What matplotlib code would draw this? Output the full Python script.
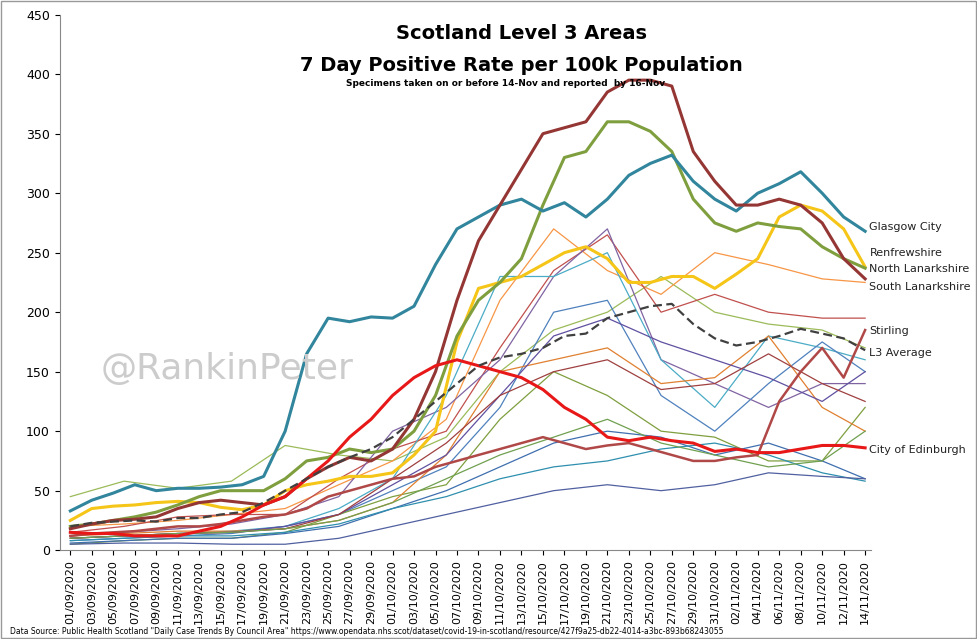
import matplotlib.pyplot as plt
import matplotlib.dates as mdates
import pandas as pd

dates = pd.date_range("2020-09-01", "2020-11-14", freq="D")
d2 = dates[::2]                      # every 2 days, 38 points
d5 = dates[list(range(0, 75, 5)) + [74]]  # every 5 days, 16 points

glasgow = [33, 42, 48, 55, 50, 52, 52, 53, 55, 62, 100, 165, 195, 192, 196, 195, 205, 240, 270,
           280, 290, 295, 285, 292, 280, 295, 315, 325, 332, 310, 295, 285, 300, 308, 318, 300, 280, 268]
north_lan = [18, 22, 25, 26, 28, 35, 40, 42, 40, 38, 45, 60, 70, 78, 75, 85, 110, 150, 210,
             260, 290, 320, 350, 355, 360, 385, 395, 395, 390, 335, 310, 290, 290, 295, 290, 275, 245, 228]
renfrew = [20, 22, 25, 28, 32, 38, 45, 50, 50, 50, 60, 75, 78, 85, 82, 85, 100, 130, 180,
           210, 225, 245, 290, 330, 335, 360, 360, 352, 335, 295, 275, 268, 275, 272, 270, 255, 245, 237]
yellow = [25, 35, 37, 38, 40, 41, 40, 36, 34, 38, 50, 55, 58, 62, 62, 65, 80, 100, 175,
          220, 225, 230, 240, 250, 255, 245, 225, 225, 230, 230, 220, 232, 245, 280, 290, 285, 270, 238]
edinburgh = [15, 14, 14, 12, 12, 12, 16, 20, 28, 38, 45, 60, 75, 95, 110, 130, 145, 155, 160,
             155, 150, 145, 135, 120, 110, 95, 92, 95, 92, 90, 83, 85, 82, 82, 85, 88, 88, 86]
l3_avg = [20, 23, 24, 25, 24, 27, 27, 30, 32, 40, 50, 60, 70, 78, 85, 95, 110, 125, 140,
          155, 162, 165, 170, 180, 182, 195, 200, 205, 207, 190, 178, 172, 175, 180, 186, 182, 178, 168]
stirling = [12, 14, 15, 16, 18, 20, 20, 22, 25, 28, 30, 35, 45, 50, 55, 60, 62, 70, 75,
            80, 85, 90, 95, 90, 85, 88, 90, 85, 80, 75, 75, 78, 80, 125, 150, 170, 145, 185]

thin = {
    "#9BBB59": [45, 58, 52, 58, 88, 80, 75, 95, 150, 185, 200, 230, 200, 190, 185, 170],
    "#F79646": [20, 22, 25, 30, 35, 55, 75, 110, 210, 270, 235, 215, 250, 240, 228, 225],
    "#C0504D": [15, 20, 28, 30, 30, 60, 85, 100, 170, 235, 265, 200, 215, 200, 195, 195],
    "#8064A2": [12, 15, 18, 22, 30, 45, 100, 120, 160, 230, 270, 160, 140, 120, 140, 140],
    "#4BACC6": [10, 12, 14, 16, 20, 35, 60, 130, 230, 230, 250, 160, 120, 180, 170, 160],
    "#4F81BD": [8, 10, 12, 14, 20, 30, 50, 70, 120, 200, 210, 130, 100, 140, 175, 150],
    "#7F9F3F": [5, 8, 10, 10, 15, 30, 45, 55, 110, 150, 130, 100, 95, 75, 75, 120],
    "#E08030": [12, 14, 16, 16, 18, 25, 40, 80, 150, 160, 170, 140, 145, 180, 120, 100],
    "#6050A0": [10, 12, 14, 15, 20, 30, 55, 80, 130, 180, 195, 175, 160, 145, 125, 150],
    "#3F6FAF": [6, 8, 10, 10, 14, 20, 35, 50, 70, 90, 100, 95, 80, 90, 75, 60],
    "#2F8FAF": [8, 10, 12, 12, 15, 22, 35, 45, 60, 70, 75, 85, 90, 80, 65, 58],
    "#5060A0": [5, 6, 6, 5, 5, 10, 20, 30, 40, 50, 55, 50, 55, 65, 62, 60],
    "#A04040": [10, 12, 14, 15, 18, 30, 60, 90, 130, 150, 160, 135, 140, 165, 140, 125],
    "#70A050": [10, 12, 14, 15, 18, 25, 40, 60, 80, 95, 110, 90, 80, 70, 75, 100],
}

fig = plt.figure(figsize=(9.77, 6.39), dpi=100)
ax = fig.add_axes([0.061, 0.139, 0.83, 0.838])

for c, v in thin.items():
    ax.plot(d5, v, color=c, lw=0.9)
ax.plot(d2, stirling, color="#B04848", lw=1.8)
ax.plot(d2, yellow, color="#F5C518", lw=2.2)
ax.plot(d2, renfrew, color="#7F9F3F", lw=2.2)
ax.plot(d2, glasgow, color="#31859C", lw=2.2)
ax.plot(d2, north_lan, color="#943634", lw=2.2)
ax.plot(d2, edinburgh, color="#E81818", lw=2.2)
ax.plot(d2, l3_avg, color="#404040", lw=1.6, ls=(0, (4, 2)))

labels = [("Glasgow City", glasgow[-1] + 4), ("Renfrewshire", 250), ("North Lanarkshire", 236),
          ("South Lanarkshire", 221), ("Stirling", 184), ("L3 Average", 166), ("City of Edinburgh", 84)]
for t, y in labels:
    ax.text(dates[-1] + pd.Timedelta(days=0.4), y, t, fontsize=8, va="center", color="#222222")

ax.set_xlim(dates[0] - pd.Timedelta(days=1), dates[-1] + pd.Timedelta(days=0.5))
ax.set_ylim(0, 450)
ax.set_yticks(range(0, 451, 50))
ax.set_xticks(dates[::2])
ax.xaxis.set_major_formatter(mdates.DateFormatter("%d/%m/%Y"))
ax.tick_params(axis="x", rotation=90, labelsize=8)
ax.tick_params(axis="y", labelsize=9)
for s in ["top", "right"]:
    ax.spines[s].set_visible(False)
for s in ["left", "bottom"]:
    ax.spines[s].set_color("#888888")

ax.text(0.57, 0.955, "Scotland Level 3 Areas", transform=ax.transAxes, ha="center",
        fontsize=14, fontweight="bold")
ax.text(0.57, 0.895, "7 Day Positive Rate per 100k Population", transform=ax.transAxes,
        ha="center", fontsize=14, fontweight="bold")
ax.text(0.55, 0.867, "Specimens taken on or before 14-Nov and reported  by 16-Nov",
        transform=ax.transAxes, ha="center", fontsize=6.5, fontweight="bold")
ax.text(0.05, 0.32, "@RankinPeter", transform=ax.transAxes, fontsize=26, color="#cccccc")
fig.text(0.01, 0.008, 'Data Source: Public Health Scotland "Daily Case Trends By Council Area" '
         'https://www.opendata.nhs.scot/dataset/covid-19-in-scotland/resource/427f9a25-db22-4014-a3bc-893b68243055',
         fontsize=5.5)
fig.patches.append(plt.Rectangle((0.001, 0.001), 0.998, 0.998, transform=fig.transFigure,
                                 fill=False, ec="#999999", lw=1))
fig.savefig("out.png")
